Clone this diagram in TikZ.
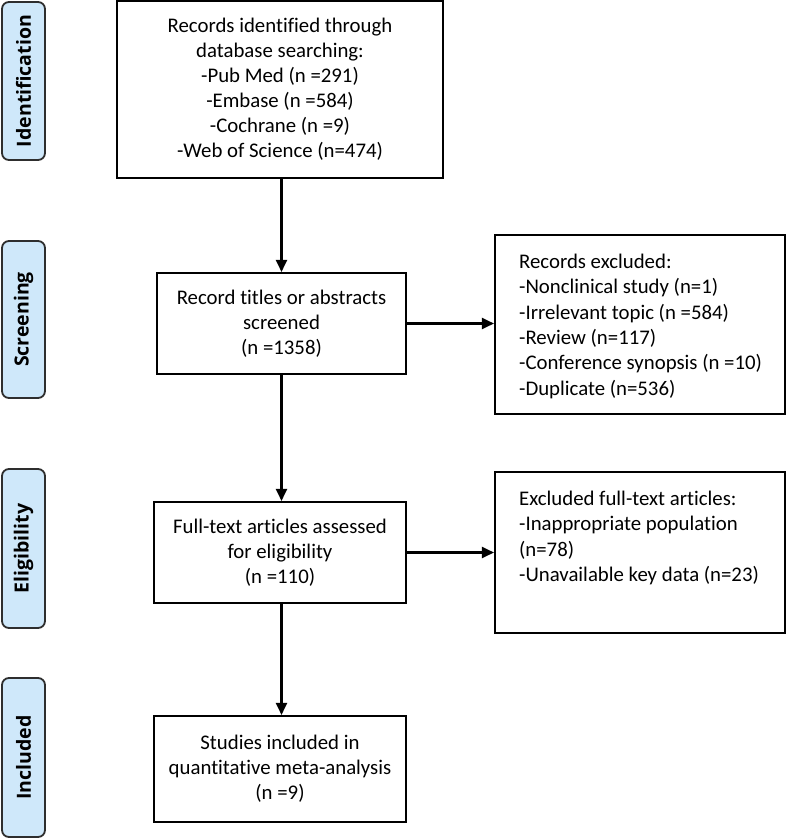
\documentclass[tikz,border=0pt]{standalone}
\usepackage{fontspec}
\setmainfont{Carlito}[Ligatures={NoCommon}]
\newfontfamily\labelfont{Open Sans}
\usetikzlibrary{arrows.meta}
\definecolor{labelblue}{HTML}{CFE8FA}
\definecolor{labeledge}{HTML}{2E2E2E}
\begin{document}
\begin{tikzpicture}[x=1pt,y=-1pt,
  box/.style={draw, line width=2.1pt, inner sep=0pt, align=center,
    font=\fontsize{20.8}{25}\selectfont},
  rtxt/.style={inner sep=0pt, align=left, anchor=north west,
    font=\fontsize{20.8}{25.3}\selectfont},
  lbl/.style={draw=labeledge, fill=labelblue, line width=1.8pt,
    rounded corners=7pt, minimum height=43pt, inner sep=0pt, rotate=90,
    font=\labelfont\bfseries\fontsize{19.5}{22}\selectfont},
  arr/.style={line width=2.1pt, -{Triangle[length=12pt,width=11pt]}}]
\useasboundingbox (0,0) rectangle (787,839);
\fill[white] (0,0) rectangle (787,839);

% side labels
\node[lbl, minimum width=158pt] (Lid) at (23.5,81) {Identification};
\node[lbl, minimum width=157pt] (Lscr) at (23.5,319.5) {Screening};
\node[lbl, minimum width=159pt] (Lelig) at (23.5,548.5) {Eligibility};
\node[lbl, minimum width=159pt] (Linc) at (23.5,757.5) {Included};

% main boxes
\node[box, minimum width=326pt, minimum height=177pt] (recs) at (280,89.5)
  {Records identified through\\database searching:\\-Pub Med (n =291)\\-Embase (n =584)\\-Cochrane (n =9)\\-Web of Science (n=474)};
\node[box, minimum width=249pt, minimum height=101pt] (screen) at (281.5,323.5)
  {Record titles or abstracts\\screened\\(n =1358)};
\node[box, minimum width=252pt, minimum height=101pt] (elig) at (280,552.5)
  {Full-text articles assessed\\for eligibility\\(n =110)};
\node[box, minimum width=252pt, minimum height=106pt] (incl) at (280,769)
  {Studies included in\\quantitative meta-analysis\\(n =9)};

% right boxes
\node[box, minimum width=290pt, minimum height=179pt] (excl1) at (640,324.5) {};
\node[rtxt] (excl1t) at ([shift={(25,20)}]excl1.north west)
  {Records excluded:\\-Nonclinical study (n=1)\\-Irrelevant topic (n =584)\\-Review (n=117)\\-Conference synopsis (n =10)\\-Duplicate (n=536)};
\node[box, minimum width=290pt, minimum height=161pt] (excl2) at (640,552.5) {};
\node[rtxt] (excl2t) at ([shift={(25,20)}]excl2.north west)
  {Excluded full-text articles:\\-Inappropriate population\\(n=78)\\-Unavailable key data (n=23)};

% connectors
\draw[arr] (recs.south -| screen.north) -- (screen.north);
\draw[arr] (screen.south) -- (screen.south |- elig.north);
\draw[arr] (screen.south |- elig.south) -- (screen.south |- incl.north);
\draw[arr] (screen.east) -- (screen.east -| excl1.west);
\draw[arr] (elig.east) -- (elig.east -| excl2.west);
\end{tikzpicture}
\end{document}
